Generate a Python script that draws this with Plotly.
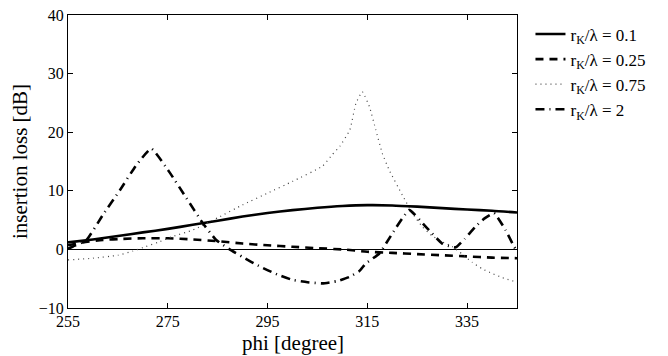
import plotly.graph_objects as go

# r_K/lambda = 0.1 (solid)
phi_a = [255, 260, 265, 270, 275, 280, 285, 290, 295, 300, 305, 310, 315, 320, 325, 330, 335, 340, 345]
il_a = [1.2, 1.7, 2.3, 2.9, 3.5, 4.2, 4.9, 5.6, 6.2, 6.7, 7.1, 7.4, 7.55, 7.5, 7.3, 7.05, 6.8, 6.6, 6.3]

# r_K/lambda = 0.25 (dashed)
phi_b = [255, 258, 262, 266, 270, 275, 280, 285, 290, 295, 300, 305, 310, 315, 320, 325, 330, 335, 340, 345]
il_b = [0.7, 1.2, 1.6, 1.8, 1.9, 1.9, 1.7, 1.4, 1.0, 0.7, 0.45, 0.2, 0.0, -0.4, -0.6, -0.8, -1.0, -1.2, -1.4, -1.5]

# r_K/lambda = 0.75 (dotted)
phi_c = [255, 260, 265, 268, 270, 273, 276, 280, 285, 290, 295, 300, 306, 308, 309.5, 311.5, 312.7, 314,
         315.4, 316.7, 318, 319.4, 322, 324, 326, 328, 330, 332, 334, 336, 338, 340, 342, 345]
il_c = [-1.8, -1.5, -1.0, -0.3, 0.3, 1.2, 2.2, 3.3, 5.4, 7.6, 9.6, 11.6, 14.2, 16.2, 17.6, 20.4, 24.9, 26.9,
        24.4, 20.4, 16.4, 13.5, 9.3, 6.2, 3.9, 2.3, 1.3, 0.5, -0.8, -2.2, -3.3, -4.1, -4.8, -5.6]

# r_K/lambda = 2 (dash-dot)
phi_d = [255, 256, 258.7, 262, 265.4, 268.7, 271.7, 275.4, 278.7, 282, 284.7, 287.4, 290, 293.4, 297, 300,
         303, 306, 309, 311.4, 313.4, 314.7, 317.4, 320, 323.4, 326.7, 330, 332.7, 334.5, 336.7, 338.5,
         340.4, 342.7, 344.4, 345]
il_d = [0.1, 0.5, 1.6, 5.9, 10.1, 14.4, 17.2, 13.1, 8.8, 4.5, 1.6, 0.0, -1.3, -2.9, -4.3, -5.2,
        -5.6, -5.8, -5.4, -4.7, -3.7, -2.4, -0.7, 2.7, 6.7, 3.9, 1.0, 0.35, 1.8, 3.9, 5.3,
        6.2, 3.3, 0.5, -0.3]

x_ticks = [255, 275, 295, 315, 335]
y_ticks = [-10, 0, 10, 20, 30, 40]

names = ["r<sub>K</sub>/λ = 0.1", "r<sub>K</sub>/λ = 0.25", "r<sub>K</sub>/λ = 0.75", "r<sub>K</sub>/λ = 2"]

SERIF = "Liberation Serif, Times New Roman, serif"

fig = go.Figure()
fig.add_trace(go.Scatter(x=phi_a, y=il_a, mode="lines", name=names[0],
                         line=dict(color="black", width=2.6, shape="spline", smoothing=0.6)))
fig.add_trace(go.Scatter(x=phi_b, y=il_b, mode="lines", name=names[1],
                         line=dict(color="black", width=2.6, dash="8px,6px", shape="spline", smoothing=0.6)))
fig.add_trace(go.Scatter(x=phi_c, y=il_c, mode="lines", name=names[2],
                         line=dict(color="#444444", width=1.2, dash="1px,4px", shape="spline", smoothing=0.4)))
fig.add_trace(go.Scatter(x=phi_d, y=il_d, mode="lines", name=names[3],
                         line=dict(color="black", width=2.6, dash="9px,5px,1px,5px", shape="spline", smoothing=0.4)))

axis_common = dict(
    showline=True, linecolor="black", linewidth=1.2, mirror="ticks",
    ticks="inside", ticklen=5, tickcolor="black", tickwidth=1,
    showgrid=False, automargin=False, ticklabeloverflow="allow",
    tickfont=dict(family=SERIF, size=16, color="black"),
)

fig.update_xaxes(range=[255, 345], tickvals=x_ticks, ticktext=[str(v) for v in x_ticks],
                 zeroline=False, ticklabelstandoff=-1,
                 **axis_common)
fig.update_yaxes(range=[-10, 40], tickvals=y_ticks, ticktext=["\u221210", "0", "10", "20", "30", "40"],
                 zeroline=True, zerolinecolor="black", zerolinewidth=1,
                 title=dict(text="insertion loss [dB]", font=dict(family=SERIF, size=21, color="black"),
                            standoff=6),
                 **axis_common)

# x-axis title placed as an annotation so it sits just below the tick labels
fig.add_annotation(text="phi [degree]", xref="paper", yref="paper", x=0.5, y=-0.119,
                   xanchor="center", yanchor="middle", showarrow=False,
                   font=dict(family=SERIF, size=21, color="black"))

# page body adds an 8px margin, so the figure is 8px smaller than the window
fig.update_layout(
    width=660, height=348,
    margin=dict(l=60, r=151, t=7, b=48, autoexpand=False),
    paper_bgcolor="white", plot_bgcolor="white",
    font=dict(family=SERIF, color="black"),
    legend=dict(x=1.03, y=0.995, xanchor="left", yanchor="top",
                font=dict(family=SERIF, size=17, color="black"),
                bgcolor="rgba(0,0,0,0)", itemwidth=30, tracegroupgap=0),
    showlegend=True,
)

fig.write_html("out.html")
